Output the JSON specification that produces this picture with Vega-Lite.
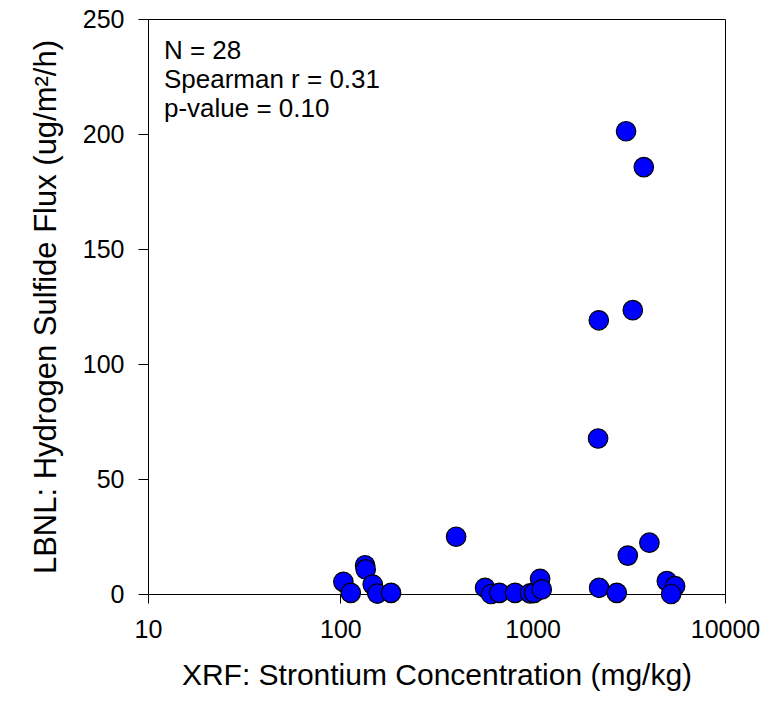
{
  "$schema": "https://vega.github.io/schema/vega-lite/v6.json",
  "width": 577,
  "height": 575,
  "autosize": {"type": "none"},
  "padding": {"left": 148, "top": 19, "right": 48, "bottom": 114},
  "background": "white",
  "config": {
    "font": "Liberation Sans",
    "view": {"stroke": "black", "strokeWidth": 1},
    "axis": {
      "domainColor": "black",
      "tickColor": "black",
      "labelColor": "black",
      "titleColor": "black",
      "labelFont": "Liberation Sans",
      "titleFont": "Liberation Sans",
      "titleFontWeight": "normal",
      "grid": false
    }
  },
  "layer": [
    {
      "data": {
        "values": [
          {"sr": 103.7, "h2s": 5.3},
          {"sr": 113.3, "h2s": 0.5},
          {"sr": 134.5, "h2s": 12.5},
          {"sr": 135.5, "h2s": 10.7},
          {"sr": 147.4, "h2s": 4.1},
          {"sr": 155.7, "h2s": 0.2},
          {"sr": 183.5, "h2s": 0.5},
          {"sr": 400, "h2s": 24.9},
          {"sr": 565.6, "h2s": 2.7},
          {"sr": 607.7, "h2s": 0.0},
          {"sr": 671, "h2s": 0.5},
          {"sr": 810, "h2s": 0.5},
          {"sr": 970, "h2s": 0.3},
          {"sr": 1017, "h2s": 0.5},
          {"sr": 1093, "h2s": 6.6},
          {"sr": 1115, "h2s": 2.0},
          {"sr": 2215, "h2s": 2.7},
          {"sr": 2737, "h2s": 0.5},
          {"sr": 3122, "h2s": 16.7},
          {"sr": 4045, "h2s": 22.3},
          {"sr": 4982, "h2s": 5.6},
          {"sr": 5502, "h2s": 3.4},
          {"sr": 5246, "h2s": 0.0},
          {"sr": 3059, "h2s": 201.2},
          {"sr": 3783, "h2s": 185.6},
          {"sr": 2207, "h2s": 119.0},
          {"sr": 3316, "h2s": 123.4},
          {"sr": 2188, "h2s": 67.6}
        ]
      },
      "mark": {"type": "point", "shape": "circle", "filled": true, "fill": "#0000FF", "stroke": "black", "strokeWidth": 1.2, "size": 380, "opacity": 1},
      "encoding": {
        "x": {
          "field": "sr", "type": "quantitative",
          "scale": {"type": "log", "domain": [10, 10000], "nice": false},
          "axis": {
            "title": "XRF: Strontium Concentration (mg/kg)",
            "values": [10, 100, 1000, 10000],
            "format": "d",
            "tickSize": 9,
            "labelPadding": 14,
            "labelFontSize": 25,
            "titleFontSize": 30,
            "titlePadding": 18,
            "labelFlush": false,
            "ticks": true
          }
        },
        "y": {
          "field": "h2s", "type": "quantitative",
          "scale": {"domain": [0, 250], "nice": false},
          "axis": {
            "title": "LBNL: Hydrogen Sulfide Flux (ug/m²/h)",
            "values": [0, 50, 100, 150, 200, 250],
            "tickSize": 10,
            "labelPadding": 14,
            "labelFontSize": 25,
            "titleFontSize": 31,
            "titlePadding": 20,
            "labelFlush": false
          }
        }
      }
    },
    {
      "data": {"values": [{"label": "N = 28\nSpearman r = 0.31\np-value = 0.10"}]},
      "mark": {"type": "text", "align": "left", "baseline": "alphabetic", "fontSize": 26, "color": "#000000", "font": "Liberation Sans", "lineBreak": "\n", "lineHeight": 29},
      "encoding": {
        "x": {"datum": 12.1},
        "y": {"datum": 232.7},
        "text": {"field": "label"}
      }
    }
  ]
}
